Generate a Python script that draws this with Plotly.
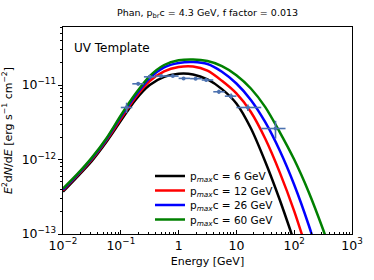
import plotly.graph_objects as go

# ---- data ----
energy_grid = [0.01, 0.0178, 0.0316, 0.0562, 0.1, 0.178, 0.316, 0.562, 1.0, 1.78,
               3.16, 5.62, 10, 17.8, 31.6, 56.2, 100, 178, 316, 562]

flux_6 = [3.7e-13, 5.9e-13, 9.6e-13, 1.72e-12, 3.31e-12, 6.28e-12, 1.0e-11, 1.29e-11,
          1.42e-11, 1.39e-11, 1.19e-11, 8.83e-12, 5.66e-12, 2.63e-12, 9.33e-13, 2.88e-13, 7.9e-14]
flux_12 = [3.85e-13, 6.1e-13, 1.0e-12, 1.8e-12, 3.52e-12, 6.76e-12, 1.13e-11, 1.53e-11,
           1.75e-11, 1.78e-11, 1.56e-11, 1.14e-11, 7.72e-12, 4.35e-12, 1.90e-12, 6.73e-13,
           2.03e-13, 5.1e-14]
flux_26 = [3.95e-13, 6.25e-13, 1.03e-12, 1.86e-12, 3.75e-12, 7.19e-12, 1.24e-11, 1.73e-11,
           1.98e-11, 2.04e-11, 1.92e-11, 1.51e-11, 1.05e-11, 6.32e-12, 3.17e-12, 1.32e-12,
           4.58e-13, 1.32e-13, 3.2e-14]
flux_60 = [4.07e-13, 6.4e-13, 1.06e-12, 1.92e-12, 3.91e-12, 7.57e-12, 1.32e-11, 1.86e-11,
           2.15e-11, 2.21e-11, 2.10e-11, 1.80e-11, 1.36e-11, 9.0e-12, 5.06e-12, 2.34e-12,
           1.0e-12, 3.67e-13, 1.15e-13, 3.2e-14]

series_labels = ["6", "12", "26", "60"]
series_colors = ["#000000", "#ff0000", "#0000ff", "#008000"]

data_E = [0.126, 0.2, 0.316, 0.5, 0.794, 1.22, 1.97, 3.0, 4.98, 8.1, 15.8, 47.5]
data_E_lo = [0.1, 0.158, 0.251, 0.398, 0.631, 1.0, 1.58, 2.51, 3.98, 6.31, 10.0, 26.9]
data_E_hi = [0.158, 0.251, 0.398, 0.631, 1.0, 1.58, 2.51, 3.98, 6.31, 10.0, 26.9, 70.8]
data_flux = [5.0e-12, 1.04e-11, 1.29e-11, 1.32e-11, 1.32e-11, 1.23e-11, 1.22e-11, 1.17e-11,
             8.13e-12, 7.1e-12, 5.0e-12, 2.61e-12]
data_flux_err = [0.8e-12, 0.5e-12, 0.5e-12, 0.5e-12, 0.5e-12, 0.5e-12, 0.5e-12, 0.5e-12,
                 0.5e-12, 0.6e-12, 0.5e-12, 0.7e-12]

title_text = "Phan, p<sub>br</sub>c = 4.3 GeV, f factor = 0.013"
xlabel = "Energy [GeV]"
ylabel = "<i>E</i><sup>2</sup>d<i>N</i>/d<i>E</i> [erg s<sup>−1</sup> cm<sup>−2</sup>]"

FONT = "DejaVu Sans"

# plot-area geometry in pixels
W, H = 374, 280
ML, MR, MT, MB = 63, 22, 27, 46
PW, PH = W - ML - MR, H - MT - MB

fig = go.Figure()

legend_rows_px = [176, 190.5, 205, 219.5]
legend_layouts = {}
for i, (lab, col, fl) in enumerate(zip(series_labels, series_colors,
                                       [flux_6, flux_12, flux_26, flux_60])):
    lname = "legend" if i == 0 else f"legend{i + 1}"
    fig.add_trace(go.Scatter(
        x=energy_grid[:len(fl)], y=fl, mode="lines",
        line=dict(color=col, width=2.5, shape="spline", smoothing=0.8),
        name=f"p<sub><i>max</i></sub>c = {lab} GeV",
        legend=lname,
    ))
    legend_layouts[lname] = dict(
        x=(150 - ML) / PW, y=(MT + PH - legend_rows_px[i]) / PH,
        xanchor="left", yanchor="middle",
        bgcolor="rgba(0,0,0,0)", font=dict(size=10.5),
        itemwidth=30,
    )

fig.add_trace(go.Scatter(
    x=data_E, y=data_flux, mode="markers",
    marker=dict(color="#4c72b0", size=4),
    error_x=dict(type="data", symmetric=False,
                 array=[h - e for h, e in zip(data_E_hi, data_E)],
                 arrayminus=[e - l for e, l in zip(data_E, data_E_lo)],
                 color="#4c72b0", thickness=1.6, width=0),
    error_y=dict(type="data", array=data_flux_err, color="#4c72b0", thickness=1.6, width=0),
    showlegend=False,
))

fig.update_layout(
    width=W, height=H,
    margin=dict(l=ML, r=MR, t=MT, b=MB, autoexpand=False),
    paper_bgcolor="white", plot_bgcolor="white",
    font=dict(family=FONT, size=10, color="black"),
    title=dict(text=title_text, x=(ML + W - MR) / 2 / W, xanchor="center",
               y=1 - 13 / H, yanchor="middle", font=dict(size=9.5)),
    annotations=[dict(text="UV Template", xref="paper", yref="paper",
                      x=0.03, y=0.9, xanchor="left", yanchor="middle",
                      showarrow=False, font=dict(size=12))],
    **legend_layouts,
)

fig.update_xaxes(
    type="log", range=[-2, 3], dtick=1, exponentformat="power", automargin=False,
    showline=True, linecolor="black", linewidth=1, mirror=True,
    ticks="inside", ticklen=4, tickcolor="black", showgrid=False, zeroline=False,
    minor=dict(ticks="inside", ticklen=2, tickcolor="black", dtick="D1", showgrid=False),
    title=dict(text=xlabel, font=dict(size=11), standoff=5),
    tickfont=dict(size=10),
)
fig.update_yaxes(
    type="log", range=[-13, -10.22], dtick=1, exponentformat="power", automargin=False,
    showline=True, linecolor="black", linewidth=1, mirror=True,
    ticks="outside", ticklen=4, tickcolor="black", showgrid=False, zeroline=False,
    minor=dict(ticks="outside", ticklen=2, tickcolor="black", dtick="D1", showgrid=False),
    title=dict(text=ylabel, font=dict(size=11), standoff=9),
    tickfont=dict(size=10),
)

fig.write_html("out.html", config={"displayModeBar": False},
               post_script="document.body.style.margin='0';")
